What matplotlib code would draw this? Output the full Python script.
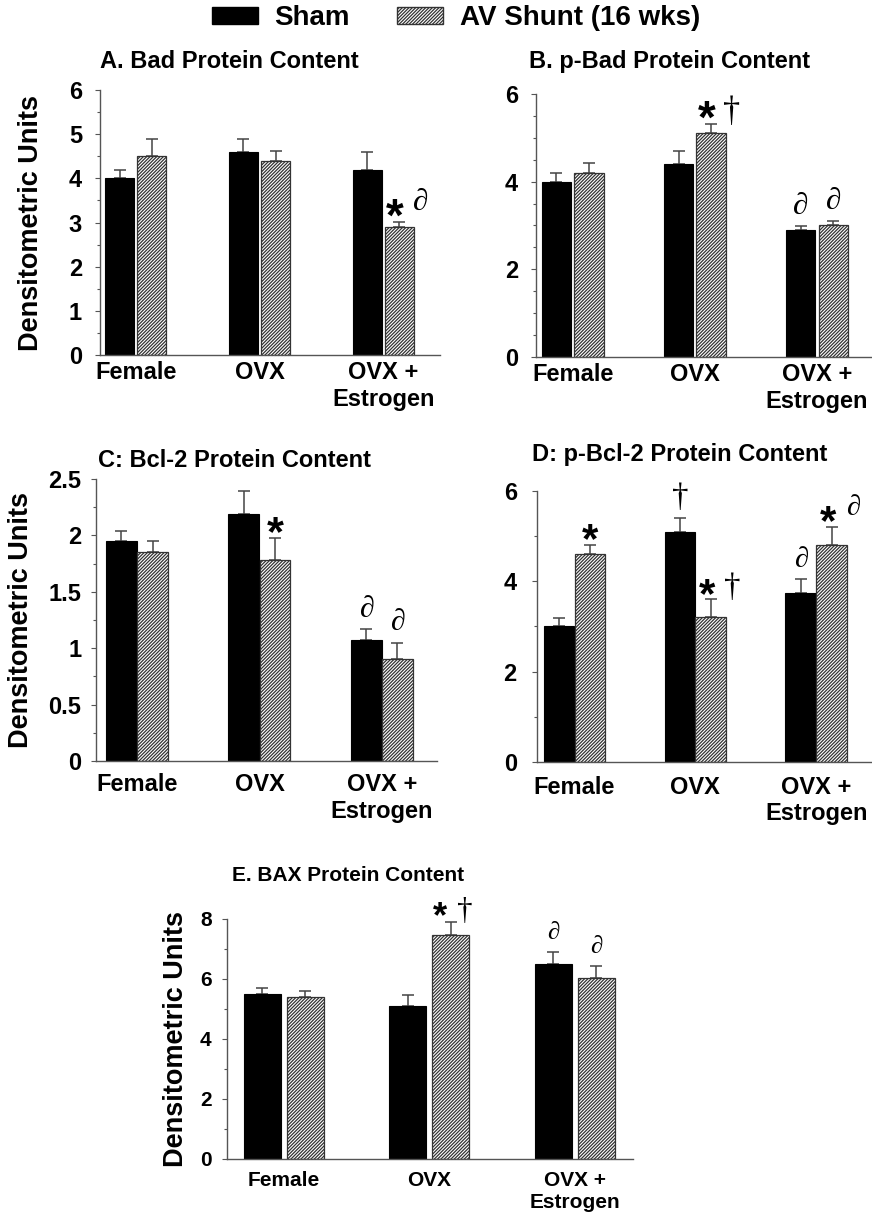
import matplotlib
matplotlib.use('Agg')
import matplotlib.pyplot as plt
from matplotlib.patches import Patch
from matplotlib.ticker import MultipleLocator, FormatStrFormatter
from matplotlib.font_manager import FontProperties
from matplotlib.textpath import TextPath

plt.rcParams['font.family'] = ['Liberation Sans', 'DejaVu Sans']
plt.rcParams['font.weight'] = 'bold'
plt.rcParams['hatch.linewidth'] = 0.9

# data
groups = ['Female', 'OVX', 'OVX +\nEstrogen']

bad_sham = [4.0, 4.6, 4.2]
bad_sham_err = [0.2, 0.3, 0.4]
bad_av = [4.5, 4.4, 2.9]
bad_av_err = [0.4, 0.22, 0.12]

pbad_sham = [4.0, 4.4, 2.9]
pbad_sham_err = [0.2, 0.3, 0.08]
pbad_av = [4.2, 5.1, 3.0]
pbad_av_err = [0.22, 0.22, 0.1]

bcl2_sham = [1.95, 2.19, 1.07]
bcl2_sham_err = [0.09, 0.2, 0.1]
bcl2_av = [1.85, 1.78, 0.90]
bcl2_av_err = [0.1, 0.2, 0.15]

pbcl2_sham = [3.0, 5.1, 3.75]
pbcl2_sham_err = [0.18, 0.3, 0.3]
pbcl2_av = [4.6, 3.2, 4.8]
pbcl2_av_err = [0.2, 0.4, 0.4]

bax_sham = [5.5, 5.1, 6.5]
bax_sham_err = [0.21, 0.36, 0.39]
bax_av = [5.4, 7.48, 6.02]
bax_av_err = [0.21, 0.41, 0.4]

# significance marks: (series, group index, symbols)
bad_marks = [('av', 2, '*∂')]
pbad_marks = [('av', 1, '*†'), ('sham', 2, '∂'), ('av', 2, '∂')]
bcl2_marks = [('av', 1, '*'), ('sham', 2, '∂'), ('av', 2, '∂')]
pbcl2_marks = [('av', 0, '*'), ('sham', 1, '†'), ('av', 1, '*†'), ('sham', 2, '∂'), ('av', 2, '*∂')]
bax_marks = [('av', 1, '*†'), ('sham', 2, '∂'), ('av', 2, '∂')]

HATCH_EDGE = '#333333'
ERR_COLOR = '#444444'
SPINE_COLOR = '#555555'
HATCH = '//////////'

fig = plt.figure(figsize=(8.72, 12.25), dpi=100)

# symbol fonts, ink height (px), ink centre above the error cap (px) alone / in a pair
SYMBOLS = {
    '*': (FontProperties(family='Liberation Sans', weight='bold'), 17, 14, 14),
    '†': (FontProperties(family='Liberation Serif', weight='normal'), 28, 22, 13),
    '∂': (FontProperties(family='Liberation Serif', weight='normal', style='italic'), 23, 23, 23),
}
INK = {}
for ch, spec in SYMBOLS.items():
    ext = TextPath((0, 0), ch, size=1, prop=spec[0]).get_extents()
    INK[ch] = (ext.x0, ext.y0, ext.x1, ext.y1)


def put_symbol(ax, ch, bx, top, dx_px, scale, paired):
    fp, h_px, lift_single, lift_pair = SYMBOLS[ch]
    lift = lift_pair if paired else lift_single
    if ch == '†':
        scale = 0.5 + 0.5 * scale
    x0, y0, x1, y1 = INK[ch]
    em_px = h_px * scale / (y1 - y0)
    cx = (x0 + x1) / 2 * em_px
    cy = (y0 + y1) / 2 * em_px
    ox = dx_px - cx
    oy = lift * (0.8 + 0.2 * scale) - cy
    ax.annotate(ch, xy=(bx, top), xytext=(ox * 0.72, oy * 0.72),
                textcoords='offset points', ha='left', va='baseline',
                color='black', annotation_clip=False,
                fontproperties=fp, fontsize=em_px * 0.72)


def panel(rect, title, title_xy, sham, sham_err, av, av_err, marks,
          ylim, major, minor, xlim, w, d, fs, ypad, xpad, ylab_x=None,
          sym_scale=1.0, combo_dx=(-4, 21)):
    ax = fig.add_axes(rect)
    x = range(len(groups))
    xs = [i - d for i in x]
    xa = [i + d for i in x]
    ax.bar(xs, sham, width=w, color='black', edgecolor='black', linewidth=0.8, zorder=2)
    ax.bar(xa, av, width=w, color='white', edgecolor=HATCH_EDGE, hatch=HATCH, linewidth=0.9, zorder=2)
    ax.errorbar(xs, sham, yerr=[[0] * 3, sham_err], fmt='none', ecolor=ERR_COLOR,
                elinewidth=1.1, capsize=4, capthick=1.1, zorder=1)
    ax.errorbar(xa, av, yerr=[[0] * 3, av_err], fmt='none', ecolor=ERR_COLOR,
                elinewidth=1.1, capsize=4, capthick=1.1, zorder=1)

    ax.set_xlim(*xlim)
    ax.set_ylim(*ylim)
    ax.yaxis.set_major_locator(MultipleLocator(major))
    ax.yaxis.set_minor_locator(MultipleLocator(minor))
    ax.yaxis.set_major_formatter(FormatStrFormatter('%g'))
    ax.set_xticks(list(x))
    ax.set_xticklabels(groups, fontsize=fs, fontweight='bold')
    ax.tick_params(axis='x', length=0, pad=xpad)
    ax.tick_params(axis='y', which='major', length=3.5, width=0.8, color=SPINE_COLOR,
                   labelsize=fs, pad=ypad)
    ax.tick_params(axis='y', which='minor', length=2.5, width=0.8, color=SPINE_COLOR)
    for lab in ax.get_yticklabels():
        lab.set_fontweight('bold')
    for s in ['top', 'right']:
        ax.spines[s].set_visible(False)
    for s in ['left', 'bottom']:
        ax.spines[s].set_color(SPINE_COLOR)
        ax.spines[s].set_linewidth(1.0)

    ax.text(title_xy[0], title_xy[1], title, transform=ax.transAxes,
            fontsize=fs, fontweight='bold', ha='left', va='center')
    if ylab_x is not None:
        ax.set_ylabel('Densitometric Units', fontsize=19.5, fontweight='bold')
        ax.yaxis.set_label_coords(ylab_x, 0.5)

    for series, gi, syms in marks:
        if series == 'sham':
            bx, top = xs[gi], sham[gi] + sham_err[gi]
        else:
            bx, top = xa[gi], av[gi] + av_err[gi]
        paired = len(syms) > 1
        for k, ch in enumerate(syms):
            dx_px = combo_dx[k] if paired else 0
            put_symbol(ax, ch, bx, top, dx_px, sym_scale, paired)
    return ax


panel([0.1147, 0.7102, 0.390, 0.2163], 'A. Bad Protein Content', (0.0, 1.106),
      bad_sham, bad_sham_err, bad_av, bad_av_err, bad_marks,
      (0, 6), 1, 0.5, (-0.29, 2.46), 0.235, 0.13, 17, 9.5, 4.5, ylab_x=-0.165)

panel([0.6147, 0.7086, 0.3853, 0.2147], 'B. p-Bad Protein Content', (-0.021, 1.122),
      pbad_sham, pbad_sham_err, pbad_av, pbad_av_err, pbad_marks,
      (0, 6), 2, 0.5, (-0.30, 2.45), 0.24, 0.133, 17, 9.5, 4.5)

panel([0.1101, 0.3788, 0.391, 0.2302], 'C: Bcl-2 Protein Content', (0.006, 1.067),
      bcl2_sham, bcl2_sham_err, bcl2_av, bcl2_av_err, bcl2_marks,
      (0, 2.5), 0.5, 0.25, (-0.335, 2.45), 0.253, 0.127, 17, 7, 9, ylab_x=-0.182,
      sym_scale=0.95)

panel([0.6158, 0.3780, 0.3842, 0.2212], 'D: p-Bcl-2 Protein Content', (-0.015, 1.133),
      pbcl2_sham, pbcl2_sham_err, pbcl2_av, pbcl2_av_err, pbcl2_marks,
      (0, 6), 2, 1, (-0.31, 2.46), 0.255, 0.128, 17, 11, 10, sym_scale=0.92)

panel([0.2603, 0.0539, 0.4656, 0.1959], 'E. BAX Protein Content', (0.012, 1.183),
      bax_sham, bax_sham_err, bax_av, bax_av_err, bax_marks,
      (0, 8), 2, 1, (-0.39, 2.40), 0.254, 0.149, 15, 7.5, 8.5, ylab_x=-0.094,
      sym_scale=0.8, combo_dx=(-11, 14))

handles = [Patch(facecolor='black', edgecolor='black'),
           Patch(facecolor='white', edgecolor=HATCH_EDGE, hatch=HATCH)]
fig.legend(handles, ['Sham', 'AV Shunt (16 wks)'], loc='center',
           bbox_to_anchor=(0.523, 0.985), ncol=2, frameon=False,
           prop={'weight': 'bold', 'size': 20}, handlelength=1.65,
           handleheight=0.55, columnspacing=1.7, handletextpad=0.6)

fig.savefig('out.png', dpi=100)
